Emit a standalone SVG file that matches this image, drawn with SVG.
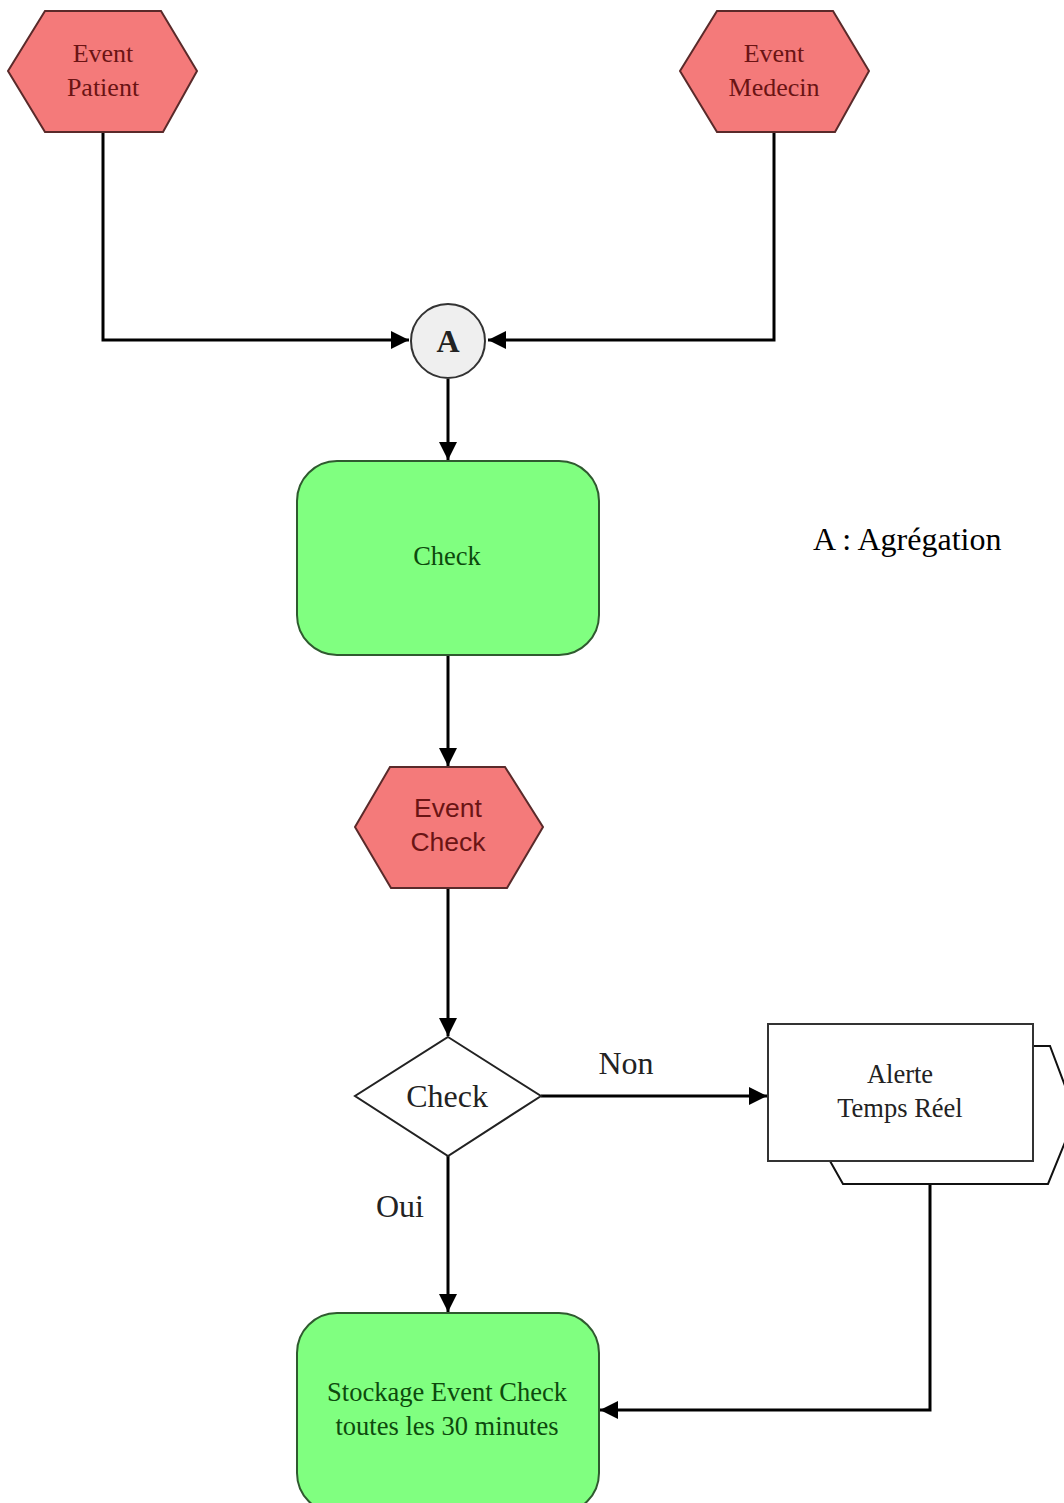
<svg xmlns="http://www.w3.org/2000/svg" width="1064" height="1503" viewBox="0 0 1064 1503">
<style>
.hex{fill:#F47A7A;stroke:#5a2a2a;stroke-width:2}
.box{fill:#80FF80;stroke:#2f5a2f;stroke-width:2}
.conn{fill:none;stroke:#000;stroke-width:3}
.ser{font-family:"Liberation Serif",serif;text-anchor:middle}
.red{fill:#6a1414;font-size:26px}
.grn{fill:#0d4a0d;font-size:26.5px}
</style>
<defs>
<marker id="ah" viewBox="0 0 10 10" refX="10" refY="5" markerWidth="6" markerHeight="6" markerUnits="strokeWidth" orient="auto">
<path d="M0,0 L10,5 L0,10 z" fill="#000"/>
</marker>
</defs>
<rect width="1064" height="1503" fill="#fff"/>
<g id="connectors">
<polyline class="conn" points="103,132 103,340 409,340" marker-end="url(#ah)"/>
<polyline class="conn" points="774,132 774,340 488,340" marker-end="url(#ah)"/>
<line class="conn" x1="448" y1="379" x2="448" y2="460" marker-end="url(#ah)"/>
<line class="conn" x1="448" y1="655" x2="448" y2="766" marker-end="url(#ah)"/>
<line class="conn" x1="448" y1="888" x2="448" y2="1036" marker-end="url(#ah)"/>
<line class="conn" x1="541" y1="1096" x2="767" y2="1096" marker-end="url(#ah)"/>
<line class="conn" x1="448" y1="1156" x2="448" y2="1312" marker-end="url(#ah)"/>
<polyline class="conn" points="930,1184 930,1410 600,1410" marker-end="url(#ah)"/>
</g>
<g id="event-patient">
<polygon class="hex" points="45,11 161,11 197,71 163,132 45,132 8,71"/>
<text class="ser red" x="103" y="62">Event</text>
<text class="ser red" x="103" y="96">Patient</text>
</g>
<g id="event-medecin">
<polygon class="hex" points="717,11 833,11 869,71 835,132 717,132 680,71"/>
<text class="ser red" x="774" y="62">Event</text>
<text class="ser red" x="774" y="96">Medecin</text>
</g>
<g id="aggregation">
<circle cx="448" cy="341" r="37" fill="#efefef" stroke="#333" stroke-width="2"/>
<text class="ser" x="448" y="352" font-size="32" font-weight="bold" fill="#222">A</text>
</g>
<g id="check-box">
<rect class="box" x="297" y="461" width="302" height="194" rx="40" ry="40"/>
<text class="ser grn" x="447" y="565">Check</text>
</g>
<g id="legend">
<text x="813" y="550" font-family="Liberation Serif,serif" font-size="32" fill="#000">A : Agrégation</text>
</g>
<g id="event-check">
<polygon class="hex" points="390,767 505,767 543,827 507,888 391,888 355,827"/>
<text x="448" y="817" font-family="Liberation Sans,sans-serif" font-size="26.5" text-anchor="middle" fill="#6a1414">Event</text>
<text x="448" y="851" font-family="Liberation Sans,sans-serif" font-size="26.5" text-anchor="middle" fill="#6a1414">Check</text>
</g>
<g id="decision">
<polygon points="448,1037 541,1096 448,1156 355,1096" fill="#fff" stroke="#222" stroke-width="2"/>
<text class="ser" x="447" y="1107" font-size="32" fill="#222">Check</text>
</g>
<g id="labels">
<text class="ser" x="626" y="1074" font-size="32" fill="#222">Non</text>
<text class="ser" x="400" y="1217" font-size="32" fill="#222">Oui</text>
</g>
<g id="alerte">
<polyline points="1033,1046 1050,1046 1076,1115 1048,1184 843,1184 830,1161" fill="#fff" stroke="#111" stroke-width="2"/>
<rect x="768" y="1024" width="265" height="137" fill="#fff" stroke="#333" stroke-width="2"/>
<text class="ser" x="900" y="1083" font-size="26.5" fill="#222">Alerte</text>
<text class="ser" x="900" y="1117" font-size="26.5" fill="#222">Temps Réel</text>
</g>
<g id="stockage">
<rect class="box" x="297" y="1313" width="302" height="200" rx="40" ry="40"/>
<text class="ser grn" x="447" y="1401">Stockage Event Check</text>
<text class="ser grn" x="447" y="1435">toutes les 30 minutes</text>
</g>
</svg>
